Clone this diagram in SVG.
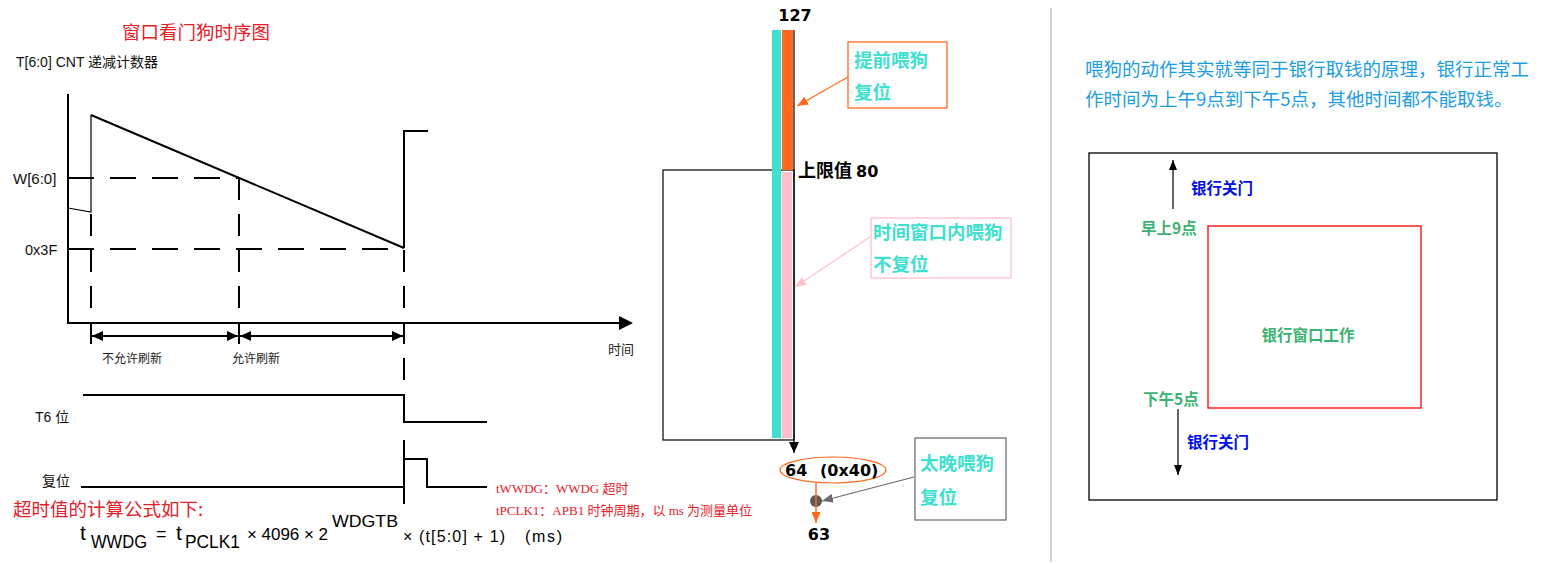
<svg xmlns="http://www.w3.org/2000/svg" width="1552" height="564" viewBox="0 0 1552 564">
<style>
.cjk{font-family:"Noto Sans CJK SC",sans-serif}
.lat{font-family:"Liberation Sans","Noto Sans CJK SC",sans-serif}
.ser{font-family:"Liberation Serif","Noto Sans CJK SC",serif;font-size:13px;fill:#E8202A}
.num{font-family:"DejaVu Sans",sans-serif;font-weight:bold;font-size:16px;fill:#000}
.teal{font-family:"Noto Sans CJK SC",sans-serif;font-weight:bold;font-size:18.5px;fill:#40E0D0}
.ln{stroke:#000;stroke-width:2;fill:none}
.thin{stroke:#000;stroke-width:1.2;fill:none}
.dh{stroke:#000;stroke-width:2;fill:none;stroke-dasharray:26 16}
.dv{stroke:#000;stroke-width:2;fill:none;stroke-dasharray:22 14}
.bank{font-family:"Noto Sans CJK SC",sans-serif;font-weight:bold;font-size:15.5px}
</style>
<defs>
<marker id="axis" markerUnits="userSpaceOnUse" markerWidth="14" markerHeight="14" refX="1" refY="7" orient="auto"><path d="M0,0 L14,7 L0,14 z" fill="#000"/></marker>
<marker id="dbl" markerUnits="userSpaceOnUse" markerWidth="11" markerHeight="10" refX="11" refY="5" orient="auto-start-reverse"><path d="M0,0 L11,5 L0,10 z" fill="#000"/></marker>
<marker id="blk" markerUnits="userSpaceOnUse" markerWidth="11" markerHeight="10" refX="11" refY="5" orient="auto"><path d="M0,0 L11,5 L0,10 z" fill="#000"/></marker>
<marker id="org" markerUnits="userSpaceOnUse" markerWidth="11" markerHeight="9" refX="11" refY="4.5" orient="auto"><path d="M0,0 L11,4.5 L0,9 z" fill="#FF6A20"/></marker>
<marker id="pnk" markerUnits="userSpaceOnUse" markerWidth="11" markerHeight="9" refX="11" refY="4.5" orient="auto"><path d="M0,0 L11,4.5 L0,9 z" fill="#FFC0CB"/></marker>
<marker id="gry" markerUnits="userSpaceOnUse" markerWidth="11" markerHeight="9" refX="11" refY="4.5" orient="auto"><path d="M0,0 L11,4.5 L0,9 z" fill="#6a6a6a"/></marker>
<marker id="bk2" markerUnits="userSpaceOnUse" markerWidth="10" markerHeight="8" refX="10" refY="4" orient="auto"><path d="M0,0 L10,4 L0,8 z" fill="#000"/></marker>
</defs>

<g id="timing-diagram">
<text class="cjk" x="122" y="39" font-size="18.5" fill="#E8202A">窗口看门狗时序图</text>
<text class="lat" x="16" y="67" font-size="14" fill="#111">T[6:0] CNT 递减计数器</text>
<text class="lat" x="13" y="183.5" font-size="15" fill="#111">W[6:0]</text>
<text class="lat" x="25" y="255" font-size="14.5" fill="#111">0x3F</text>
<line class="ln" x1="68" y1="94" x2="68" y2="324"/>
<line class="ln" x1="67" y1="323" x2="620" y2="323" marker-end="url(#axis)"/>
<polyline class="thin" points="68,208 91,212 91,115"/>
<polyline class="ln" points="91,115 404,248"/>
<polyline class="ln" points="404,248 404,131 428,131"/>
<line class="dh" x1="68" y1="178" x2="240" y2="178"/>
<line class="dh" x1="68" y1="249" x2="404" y2="249"/>
<line class="dv" x1="91" y1="214" x2="91" y2="346"/>
<line class="dv" x1="239" y1="178" x2="239" y2="346"/>
<line class="dv" x1="404" y1="250" x2="404" y2="385"/>
<line class="ln" x1="404" y1="440" x2="404" y2="504"/>
<line class="ln" x1="92" y1="336" x2="238" y2="336" marker-start="url(#dbl)" marker-end="url(#dbl)"/>
<line class="ln" x1="240" y1="336" x2="403" y2="336" marker-start="url(#dbl)" marker-end="url(#dbl)"/>
<text class="cjk" x="102" y="362.5" font-size="12" fill="#222">不允许刷新</text>
<text class="cjk" x="232" y="362.5" font-size="12" fill="#222">允许刷新</text>
<text class="cjk" x="608" y="354" font-size="13" fill="#222">时间</text>
<text class="lat" x="35" y="422" font-size="14" fill="#111">T6 位</text>
<polyline class="ln" points="83,395 404,395 404,422 487,422"/>
<text class="lat" x="42" y="486" font-size="14" fill="#111">复位</text>
<polyline class="ln" points="81,487 404,487 404,459 427,459 427,487 487,487"/>
<text class="cjk" x="13" y="516" font-size="18.5" fill="#E8202A">超时值的计算公式如下:</text>
<text class="ser" x="496" y="492.5">tWWDG：WWDG 超时</text>
<text class="ser" x="496" y="515">tPCLK1：APB1 时钟周期，以 ms 为测量单位</text>
</g>

<g id="formula" class="lat" fill="#000">
<text x="80" y="540" font-size="21">t</text>
<text x="91" y="548" font-size="18" textLength="56" lengthAdjust="spacingAndGlyphs">WWDG</text>
<text x="156" y="540" font-size="18">=</text>
<text x="176" y="540" font-size="21">t</text>
<text x="185" y="548" font-size="18" textLength="55" lengthAdjust="spacingAndGlyphs">PCLK1</text>
<text x="247" y="540" font-size="17" textLength="81" lengthAdjust="spacing">× 4096 × 2</text>
<text x="332" y="527" font-size="17" textLength="66" lengthAdjust="spacingAndGlyphs">WDGTB</text>
<text x="403" y="542" font-size="16" textLength="102" lengthAdjust="spacing">× (t[5:0] + 1)</text>
<text x="525" y="542" font-size="16" textLength="37" lengthAdjust="spacing">(ms)</text>
</g>

<g id="counter-bar">
<text class="num" x="795" y="21" text-anchor="middle" font-size="17">127</text>
<rect x="663" y="170" width="131" height="270" fill="none" stroke="#000" stroke-width="1.2"/>
<rect x="772" y="30" width="9" height="408" fill="#40E0D0"/>
<rect x="782" y="30" width="11" height="140" fill="#FF6A20"/>
<rect x="782" y="172" width="10" height="266" fill="#FFC0CB"/>
<text x="798" y="177" fill="#000"><tspan class="cjk" font-weight="bold" font-size="18">上限值 </tspan><tspan class="num">80</tspan></text>
</g>

<g id="early-callout">
<rect x="848" y="42" width="99" height="66" fill="none" stroke="#FF6A20" stroke-width="1.3"/>
<text class="teal" x="854" y="67">提前喂狗</text>
<text class="teal" x="854" y="99">复位</text>
</g>

<g id="window-callout">
<rect x="871" y="218" width="140" height="60" fill="none" stroke="#FFC0CB" stroke-width="1.3"/>
<text class="teal" x="873" y="239">时间窗口内喂狗</text>
<text class="teal" x="873" y="271">不复位</text>
</g>

<g id="late-callout">
<rect x="915" y="438" width="91" height="82" fill="none" stroke="#707070" stroke-width="1.3"/>
<text class="teal" x="920" y="470">太晚喂狗</text>
<text class="teal" x="920" y="504">复位</text>
</g>

<g id="lower-limit">
<ellipse cx="833" cy="470" rx="53" ry="13" fill="none" stroke="#FF6A20" stroke-width="1.2"/>
<text class="num" x="785" y="476">64<tspan x="820">(0x40)</tspan></text>
<circle cx="816" cy="501" r="6" fill="#5a5a5a"/>
<text class="num" x="819" y="540" text-anchor="middle">63</text>
</g>

<g id="connectors">
<line x1="794" y1="30" x2="794" y2="453" stroke="#000" stroke-width="1.2" marker-end="url(#blk)"/>
<line x1="848" y1="77" x2="797" y2="106" stroke="#FF6A20" stroke-width="1.2" marker-end="url(#org)"/>
<line x1="870" y1="237" x2="795" y2="287" stroke="#FFC0CB" stroke-width="1.2" marker-end="url(#pnk)"/>
<line x1="914" y1="477" x2="822" y2="501" stroke="#6a6a6a" stroke-width="1.2" marker-end="url(#gry)"/>
<line x1="816" y1="483" x2="816" y2="523" stroke="#FF6A20" stroke-width="1.5" marker-end="url(#org)"/>
<line x1="1173" y1="209" x2="1173" y2="160" stroke="#000" stroke-width="1.2" marker-end="url(#bk2)"/>
<line x1="1178" y1="409" x2="1178" y2="475" stroke="#000" stroke-width="1.2" marker-end="url(#bk2)"/>
</g>

<line id="separator" x1="1051" y1="8" x2="1051" y2="562" stroke="#aaaaaa" stroke-width="1"/>

<g id="bank-text" class="cjk" font-size="18.5" fill="#1C9DE3">
<text x="1085" y="76">喂狗的动作其实就等同于银行取钱的原理，银行正常工</text>
<text x="1085" y="106">作时间为上午9点到下午5点，其他时间都不能取钱。</text>
</g>

<g id="bank-diagram">
<rect x="1089" y="153" width="408" height="347" fill="none" stroke="#000" stroke-width="1.3"/>
<text class="bank" x="1191" y="194" fill="#0010E6">银行关门</text>
<text class="bank" x="1141" y="234" fill="#3CB371">早上9点</text>
<text class="bank" x="1143" y="405" fill="#3CB371">下午5点</text>
<text class="bank" x="1187" y="448" fill="#0010E6">银行关门</text>
</g>

<g id="bank-window">
<rect x="1208" y="226" width="213" height="182" fill="none" stroke="#FF0000" stroke-width="1.3"/>
<text class="bank" x="1308" y="341" text-anchor="middle" fill="#3CB371">银行窗口工作</text>
</g>
</svg>
